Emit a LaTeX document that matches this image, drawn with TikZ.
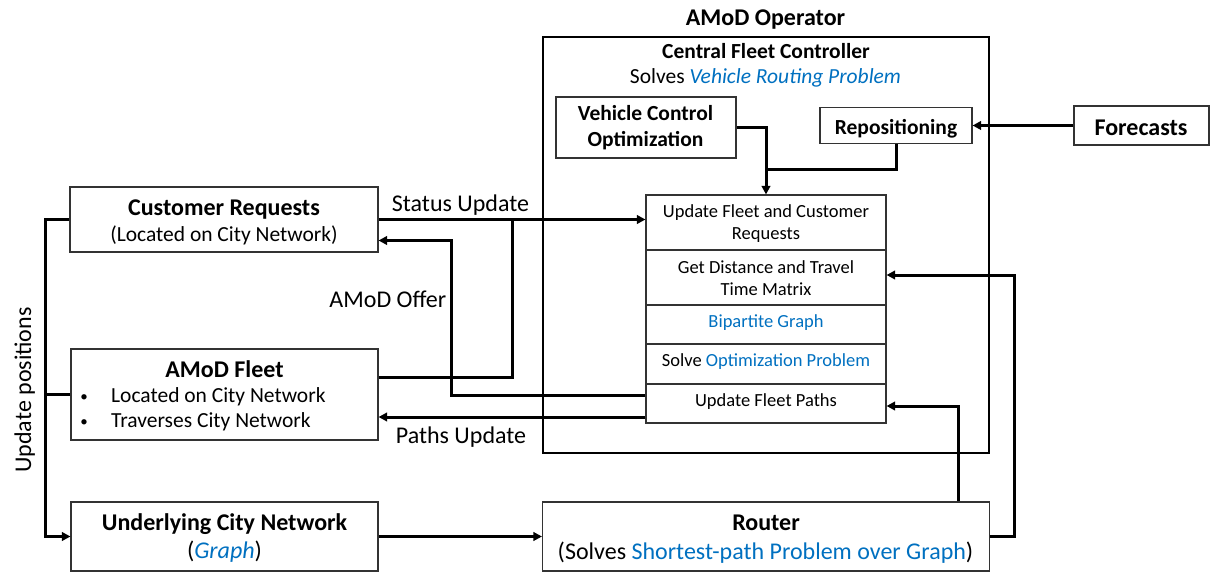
\documentclass[tikz,border=0pt]{standalone}
\usepackage{fontspec}
\setmainfont{Carlito}
\usetikzlibrary{arrows.meta}
\definecolor{pblue}{RGB}{0,112,192}
\newcommand\ftbig{\fontsize{24}{28}\selectfont}
\newcommand\ftmid{\fontsize{21.5}{26}\selectfont}
\newcommand\ftsmall{\fontsize{18.5}{22}\selectfont}

\begin{document}
\begin{tikzpicture}[x=1pt,y=-1pt,
  box/.style={draw=black!80, line width=1.1pt, inner sep=0pt},
  txt/.style={inner sep=0pt, anchor=base},
  wire/.style={line width=3pt},
  conn/.style={wire, -{Triangle[length=8.5pt,width=8.5pt]}}]
\useasboundingbox (0,0) rectangle (1210,572);

% AMoD operator frame
\node[box, draw=black, minimum width=446pt, minimum height=416pt] (op) at (766,245) {};
\node[txt] (tOp) at (765.5,26) {\ftbig\bfseries AMoD Operator};
\node[txt] (tCfc) at (766,58.5) {\ftmid\bfseries Central Fleet Controller};
\node[txt] (tVrp) at (765.5,84) {\ftmid Solves \textcolor{pblue}{\itshape Vehicle Routing Problem}};

% boxes inside the controller
\node[box, minimum width=180pt, minimum height=61pt] (vco) at (646,127.5) {};
\node[txt] (tVco1) at (645.5,121) {\ftmid\bfseries Vehicle Control};
\node[txt] (tVco2) at (645.5,147) {\ftmid\bfseries Optimization};
\node[box, minimum width=152pt, minimum height=36pt] (rep) at (896,125.5) {};
\node[txt] (tRep) at (896,134.5) {\ftmid\bfseries Repositioning};

% processing stack
\node[box, minimum width=240pt, minimum height=55pt] (r1) at (766,222.5) {};
\node[box, minimum width=240pt, minimum height=55pt] (r2) at (766,277.5) {};
\node[box, minimum width=240pt, minimum height=39pt] (r3) at (766,324.5) {};
\node[box, minimum width=240pt, minimum height=40pt] (r4) at (766,364) {};
\node[box, minimum width=240pt, minimum height=39pt] (r5) at (766,403.5) {};
\node[txt] (tR1a) at (766,218) {\ftsmall Update Fleet and Customer};
\node[txt] (tR1b) at (766,240) {\ftsmall Requests};
\node[txt] (tR2a) at (766,273) {\ftsmall Get Distance and Travel};
\node[txt] (tR2b) at (766,295) {\ftsmall Time Matrix};
\node[txt] (tR3) at (766,327) {\ftsmall\color{pblue}Bipartite Graph};
\node[txt] (tR4) at (766,366) {\ftsmall Solve \textcolor{pblue}{Optimization Problem}};
\node[txt] (tR5) at (766,406) {\ftsmall Update Fleet Paths};

% forecasts
\node[box, minimum width=135pt, minimum height=39pt] (fc) at (1141.5,125.5) {};
\node[txt] (tFc) at (1141,135.5) {\ftbig\bfseries Forecasts};

% left column
\node[box, minimum width=308pt, minimum height=65pt] (cr) at (224,219.5) {};
\node[txt] (tCr1) at (224,215) {\ftbig\bfseries Customer Requests};
\node[txt] (tCr2) at (224,242) {\ftmid (Located on City Network)};

\node[box, minimum width=307pt, minimum height=91pt] (fleet) at (224.5,394.5) {};
\node[txt] (tFl) at (224.5,377) {\ftbig\bfseries AMoD Fleet};
\node[txt] (bFl1) at (84,401) {\fontsize{15}{18}\selectfont\textbullet};
\node[txt, anchor=base west] (tFl1) at (111,402) {\ftmid Located on City Network};
\node[txt] (bFl2) at (84,426) {\fontsize{15}{18}\selectfont\textbullet};
\node[txt, anchor=base west] (tFl2) at (111,427) {\ftmid Traverses City Network};

\node[box, minimum width=307pt, minimum height=69pt] (ucn) at (224.5,536.5) {};
\node[txt] (tUcn1) at (224.5,530) {\ftbig\bfseries Underlying City Network};
\node[txt] (tUcn2) at (224.5,558) {\ftbig (\textcolor{pblue}{\itshape Graph})};

\node[box, minimum width=447pt, minimum height=69pt] (router) at (766,536.5) {};
\node[txt] (tRt1) at (766,530) {\ftbig\bfseries Router};
\node[txt] (tRt2) at (765.5,559) {\ftbig (Solves \textcolor{pblue}{Shortest-path Problem over Graph})};

% connector labels
\node[txt] (lSt) at (460.5,212) {\ftbig Status Update};
\node[txt, anchor=base east] (lOf) at (446.5,307) {\ftbig AMoD Offer};
\node[txt] (lPa) at (461,443) {\ftbig Paths Update};
\node[txt, rotate=90] (lUp) at (31,390) {\ftbig Update positions};

% junction points
\coordinate (jS) at (512,300);
\coordinate (jO) at (451,300);
\coordinate (jU) at (45.5,300);
\coordinate (jV) at (766,170);
\coordinate (jR) at (958,450);
\coordinate (jRR) at (1014,400);
\coordinate (pFl) at ([yshift=17.5pt]fleet.east);
\coordinate (pOf) at ([yshift=8.5pt]r5.west);
\coordinate (pCr) at ([yshift=-21pt]cr.east);
\coordinate (pPa) at ([yshift=-13.5pt]r5.west);
\coordinate (p5e) at ([yshift=-2.5pt]r5.east);
\coordinate (p2e) at ([yshift=2.5pt]r2.east);

% connectors
\draw[conn] (cr.east) -- (r1.west |- cr.east);
\draw[wire] (pFl) -| (jS |- cr.east);
\draw[conn] (pOf) -| (jO) |- (pCr);
\draw[conn] (pPa) -- (pPa -| fleet.east);
\draw[conn] (cr.west) -| (jU) |- (ucn.west);
\draw[wire] (fleet.west) -- (fleet.west -| jU);
\draw[conn] (ucn.east) -- (router.west);
\draw[conn] (router.north -| jR) |- (p5e);
\draw[conn] (router.east) -| (jRR) |- (p2e);
\draw[conn] (vco.east) -| (r1.north);
\draw[wire] (rep.south) |- (jV);
\draw[conn] (fc.west) -- (rep.east);
\end{tikzpicture}
\end{document}
